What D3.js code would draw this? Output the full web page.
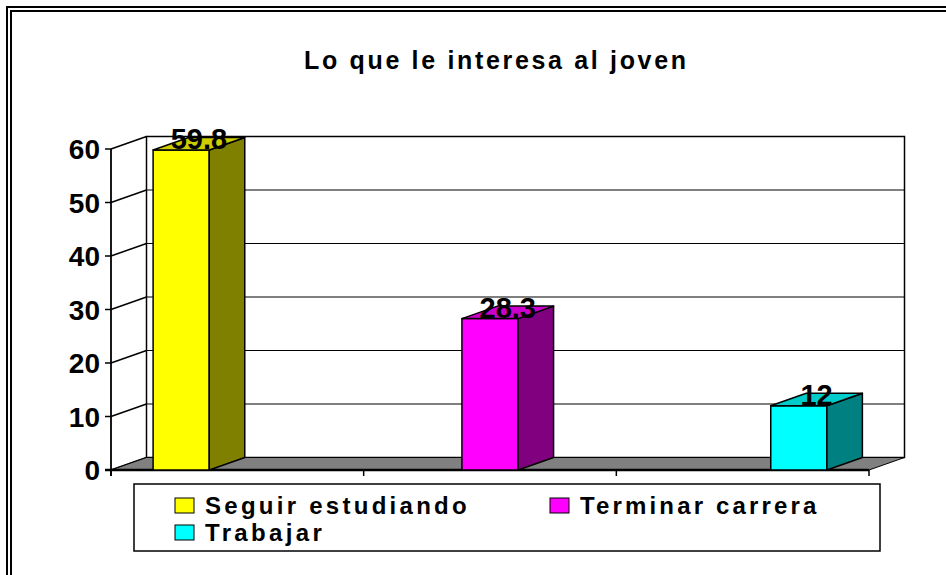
<!DOCTYPE html>
<html>
<head>
<meta charset="utf-8">
<script src="https://cdn.jsdelivr.net/npm/d3@7"></script>
<style>
  html, body { margin: 0; padding: 0; background: #fff; }
  text { font-family: "Liberation Sans", Arial, sans-serif; font-weight: bold; }
</style>
</head>
<body>
<div id="chart"></div>
<script>
// Data
const title = "Lo que le interesa al joven";
const series = ["Seguir estudiando", "Terminar carrera", "Trabajar"];
const values = [59.8, 28.3, 12];
const valueLabels = ["59.8", "28.3", "12"];
const yTicks = [0, 10, 20, 30, 40, 50, 60];
const frontColors = ["#ffff00", "#ff00ff", "#00ffff"];
const sideColors = ["#808000", "#800080", "#008080"];
const topColors = ["#cccc00", "#cc00cc", "#00cccc"];

const W = 946, H = 575;
const svg = d3.select("#chart").append("svg")
    .attr("width", W)
    .attr("height", H);

// double frame (runs off the right / bottom edge)
svg.append("rect").attr("x", 7).attr("y", 7).attr("width", 1000).attr("height", 1000)
    .attr("fill", "none").attr("stroke", "#000").attr("stroke-width", 2);
svg.append("rect").attr("x", 11).attr("y", 11).attr("width", 1000).attr("height", 1000)
    .attr("fill", "none").attr("stroke", "#000").attr("stroke-width", 2);

svg.append("text")
    .attr("x", 495).attr("y", 69)
    .attr("text-anchor", "middle")
    .attr("font-size", 25)
    .attr("textLength", 382)
    .attr("lengthAdjust", "spacing")
    .text(title);

// scales
const x0 = d3.scaleBand().domain(series).range([111, 869]).paddingInner(0).paddingOuter(0);
const x1 = d3.scaleBand().domain(series).range([0, x0.bandwidth()]).paddingInner(0).paddingOuter(0.75);
const y = d3.scaleLinear().domain([0, 60]).range([470, 149]);
const dx = 35.5, dy = -12.5; // 3d depth offset

const xL = x0.range()[0], xR = x0.range()[1];
const yTop = y(60), yBot = y(0);

// back wall
svg.append("rect")
    .attr("x", xL + dx).attr("y", yTop + dy)
    .attr("width", xR - xL).attr("height", yBot - yTop)
    .attr("fill", "#fff").attr("stroke", "#000").attr("stroke-width", 1.5);

// gridlines on back wall
svg.append("g").selectAll("line")
    .data(yTicks.filter(t => t > 0))
    .join("line")
    .attr("x1", xL + dx).attr("x2", xR + dx)
    .attr("y1", d => y(d) + dy).attr("y2", d => y(d) + dy)
    .attr("stroke", "#000").attr("stroke-width", 1.2);

// side wall lines
svg.append("g").selectAll("line")
    .data(yTicks)
    .join("line")
    .attr("x1", xL).attr("x2", xL + dx)
    .attr("y1", d => y(d)).attr("y2", d => y(d) + dy)
    .attr("stroke", "#000").attr("stroke-width", 1.5);

// floor
svg.append("polygon")
    .attr("points", [[xL, yBot], [xR, yBot], [xR + dx, yBot + dy], [xL + dx, yBot + dy]].map(p => p.join(",")).join(" "))
    .attr("fill", "#808080").attr("stroke", "#000").attr("stroke-width", 1);
svg.append("line")
    .attr("x1", xL - 6).attr("x2", xR).attr("y1", yBot).attr("y2", yBot)
    .attr("stroke", "#000").attr("stroke-width", 2.5);

// front value axis
svg.append("line")
    .attr("x1", xL).attr("x2", xL).attr("y1", yTop).attr("y2", yBot + 6)
    .attr("stroke", "#000").attr("stroke-width", 1.8);
const yAxis = svg.append("g");
yAxis.selectAll("line")
    .data(yTicks)
    .join("line")
    .attr("x1", xL - 6).attr("x2", xL)
    .attr("y1", d => y(d)).attr("y2", d => y(d))
    .attr("stroke", "#000").attr("stroke-width", 1.5);
yAxis.selectAll("text")
    .data(yTicks)
    .join("text")
    .attr("x", xL - 11)
    .attr("y", d => y(d) + 10)
    .attr("text-anchor", "end")
    .attr("font-size", 28)
    .text(d => d);

// category ticks
const catEdges = series.map(s => x0(s)).concat([xR]);
svg.append("g").selectAll("line")
    .data(catEdges)
    .join("line")
    .attr("x1", d => d).attr("x2", d => d)
    .attr("y1", yBot).attr("y2", yBot + 6)
    .attr("stroke", "#000").attr("stroke-width", 1.5);

// 3d bars
const bars = svg.append("g")
    .selectAll("g")
    .data(series.map((s, i) => ({ name: s, value: values[i], label: valueLabels[i], i })))
    .join("g")
    .attr("stroke", "#000")
    .attr("stroke-width", 1.5)
    .attr("stroke-linejoin", "round");

const bw = x1.bandwidth();
const bx = d => x0(d.name) + x1(d.name);
const pts = arr => arr.map(p => p.join(",")).join(" ");

bars.append("rect")
    .attr("x", bx)
    .attr("y", d => y(d.value))
    .attr("width", bw)
    .attr("height", d => yBot - y(d.value))
    .attr("fill", d => frontColors[d.i]);

bars.append("polygon")
    .attr("points", d => {
        const r = bx(d) + bw, t = y(d.value);
        return pts([[r, t], [r + dx, t + dy], [r + dx, yBot + dy], [r, yBot]]);
    })
    .attr("fill", d => sideColors[d.i]);

bars.append("polygon")
    .attr("points", d => {
        const l = bx(d), t = y(d.value);
        return pts([[l, t], [l + dx, t + dy], [l + bw + dx, t + dy], [l + bw, t]]);
    })
    .attr("fill", d => topColors[d.i]);

bars.append("text")
    .attr("x", d => bx(d) + (bw + dx) / 2)
    .attr("y", d => y(d.value) - 1)
    .attr("text-anchor", "middle")
    .attr("font-size", 29)
    .attr("stroke", "none")
    .attr("fill", "#000")
    .text(d => d.label);

// legend
svg.append("rect")
    .attr("x", 134).attr("y", 484).attr("width", 746).attr("height", 67)
    .attr("fill", "#fff").attr("stroke", "#000").attr("stroke-width", 1.5);

const colX = [175, 550], rowY = [498, 525];
const legend = svg.append("g").selectAll("g")
    .data(series)
    .join("g")
    .attr("transform", (d, i) => `translate(${colX[i % 2]},${rowY[Math.floor(i / 2)]})`);

legend.append("rect")
    .attr("width", 19).attr("height", 15)
    .attr("fill", (d, i) => frontColors[i])
    .attr("stroke", "#000").attr("stroke-width", 1);

legend.append("text")
    .attr("x", 30).attr("y", 16)
    .attr("font-size", 24)
    .text(d => d)
    .each(function () {
        const len = this.getComputedTextLength();
        d3.select(this).attr("textLength", len * 1.25).attr("lengthAdjust", "spacing");
    });
</script>
</body>
</html>
